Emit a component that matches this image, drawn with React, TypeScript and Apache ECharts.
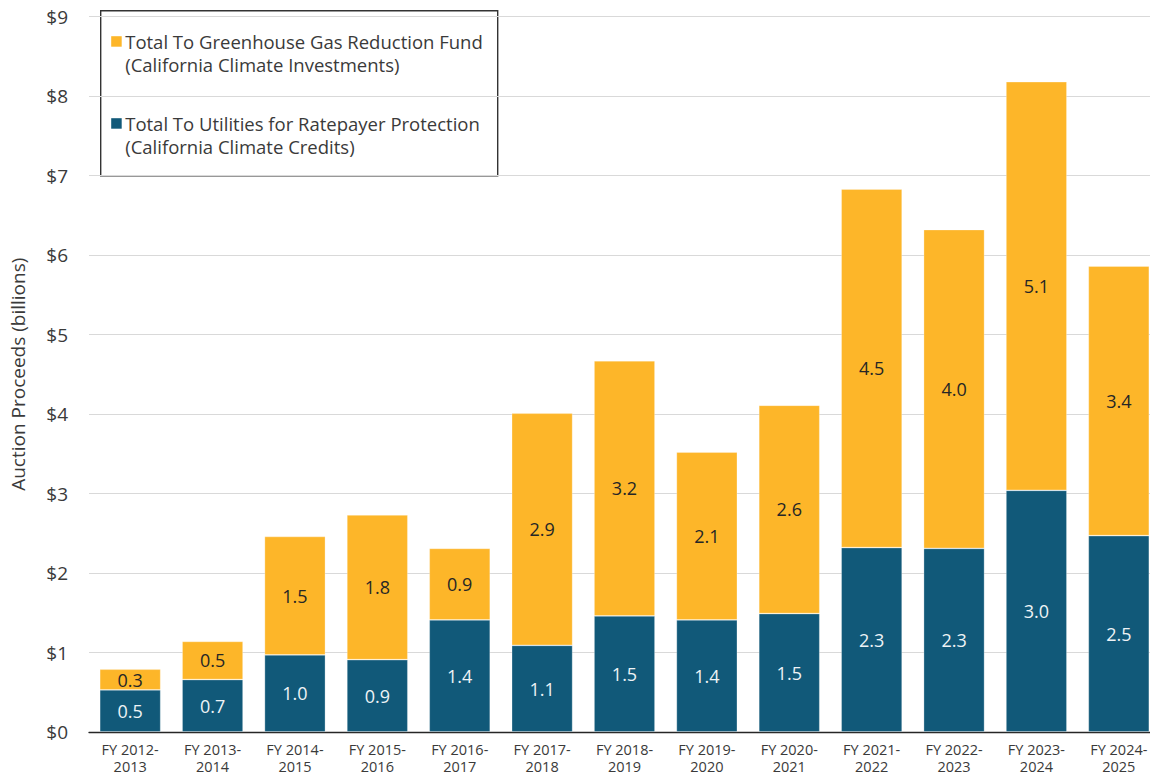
import React, { useEffect, useRef } from "react";
import * as echarts from "echarts";

// Fiscal years on the category axis
const categories = [
  "FY 2012-\n2013",
  "FY 2013-\n2014",
  "FY 2014-\n2015",
  "FY 2015-\n2016",
  "FY 2016-\n2017",
  "FY 2017-\n2018",
  "FY 2018-\n2019",
  "FY 2019-\n2020",
  "FY 2020-\n2021",
  "FY 2021-\n2022",
  "FY 2022-\n2023",
  "FY 2023-\n2024",
  "FY 2024-\n2025",
];

// Auction proceeds in billions of dollars
const utilitiesValues = [0.53, 0.66, 0.97, 0.91, 1.41, 1.09, 1.46, 1.41, 1.49, 2.32, 2.31, 3.04, 2.47];
const ggrfValues = [0.26, 0.48, 1.49, 1.82, 0.9, 2.92, 3.21, 2.11, 2.62, 4.51, 4.01, 5.14, 3.39];

const yTicks = { min: 0, max: 9, interval: 1 };

const ggrfName = "Total To Greenhouse Gas Reduction Fund";
const ggrfSub = "(California Climate Investments)";
const utilName = "Total To Utilities for Ratepayer Protection";
const utilSub = "(California Climate Credits)";

const YELLOW = "#FDB629";
const BLUE = "#115979";
const FONT = "'Open Sans', Lato, sans-serif";
const TEXT = "#3a3a3a";

export default function App() {
  const ref = useRef<HTMLDivElement>(null);

  useEffect(() => {
    if (!ref.current) return;
    const chart = echarts.init(ref.current, undefined, { renderer: "svg" });

    const legendText = (x: number, y: number, text: string) => ({
      type: "text",
      x,
      y,
      style: {
        text,
        fill: TEXT,
        font: `18.5px ${FONT}`,
        verticalAlign: "middle",
      },
    });

    chart.setOption({
      animation: false,
      textStyle: { fontFamily: FONT },
      grid: { left: 85, right: 2, top: 16.5, bottom: 42, containLabel: false },
      xAxis: {
        type: "category",
        data: categories,
        axisLine: { show: true, lineStyle: { color: "#262626", width: 1.3 } },
        axisTick: { show: false },
        axisLabel: {
          color: TEXT,
          fontSize: 14.5,
          lineHeight: 17,
          margin: 9,
          fontFamily: FONT,
          interval: 0,
        },
      },
      yAxis: {
        type: "value",
        min: yTicks.min,
        max: yTicks.max,
        interval: yTicks.interval,
        name: "Auction Proceeds (billions)",
        nameLocation: "middle",
        nameGap: 62,
        nameRotate: 90,
        nameTextStyle: { color: TEXT, fontSize: 19, fontFamily: FONT },
        axisLine: { show: false },
        axisTick: { show: false },
        axisLabel: {
          color: TEXT,
          fontSize: 19,
          margin: 21,
          fontFamily: FONT,
          formatter: (v: number) => `$${v}`,
        },
        splitLine: { lineStyle: { color: "#d9d9d9", width: 1 } },
      },
      series: [
        {
          name: utilName,
          type: "bar",
          stack: "total",
          data: utilitiesValues,
          barWidth: 61,
          itemStyle: { color: BLUE, borderColor: "rgba(255,255,255,0.35)", borderWidth: 0.8 },
          label: {
            show: true,
            position: "inside",
            color: "#eef3f6",
            fontSize: 18,
            fontFamily: FONT,
            formatter: (p: any) => Number(p.value).toFixed(1),
          },
        },
        {
          name: ggrfName,
          type: "bar",
          stack: "total",
          data: ggrfValues,
          barWidth: 61,
          itemStyle: { color: YELLOW, borderColor: "rgba(255,255,255,0.35)", borderWidth: 0.8 },
          label: {
            show: true,
            position: "inside",
            color: "#262626",
            fontSize: 18,
            fontFamily: FONT,
            formatter: (p: any) => Number(p.value).toFixed(1),
          },
        },
      ],
      graphic: [
        {
          type: "group",
          left: 100,
          top: 10,
          children: [
            {
              type: "rect",
              shape: { x: 0.5, y: 0.5, width: 397, height: 165 },
              style: { fill: "#ffffff", stroke: "#333333", lineWidth: 1.4 },
            },
            { type: "rect", shape: { x: 11, y: 26, width: 10.5, height: 10.5 }, style: { fill: YELLOW } },
            legendText(25, 31, ggrfName),
            legendText(25, 54, ggrfSub),
            { type: "rect", shape: { x: 11, y: 108, width: 10.5, height: 10.5 }, style: { fill: BLUE } },
            legendText(25, 113, utilName),
            legendText(25, 136, utilSub),
          ],
        },
      ],
    });

    return () => chart.dispose();
  }, []);

  return (
    <div
      style={{
        position: "fixed",
        left: 0,
        top: 0,
        width: 1150,
        height: 775,
        overflow: "hidden",
        background: "#ffffff",
      }}
    >
      <div ref={ref} style={{ width: 1162, height: 775 }} />
    </div>
  );
}
